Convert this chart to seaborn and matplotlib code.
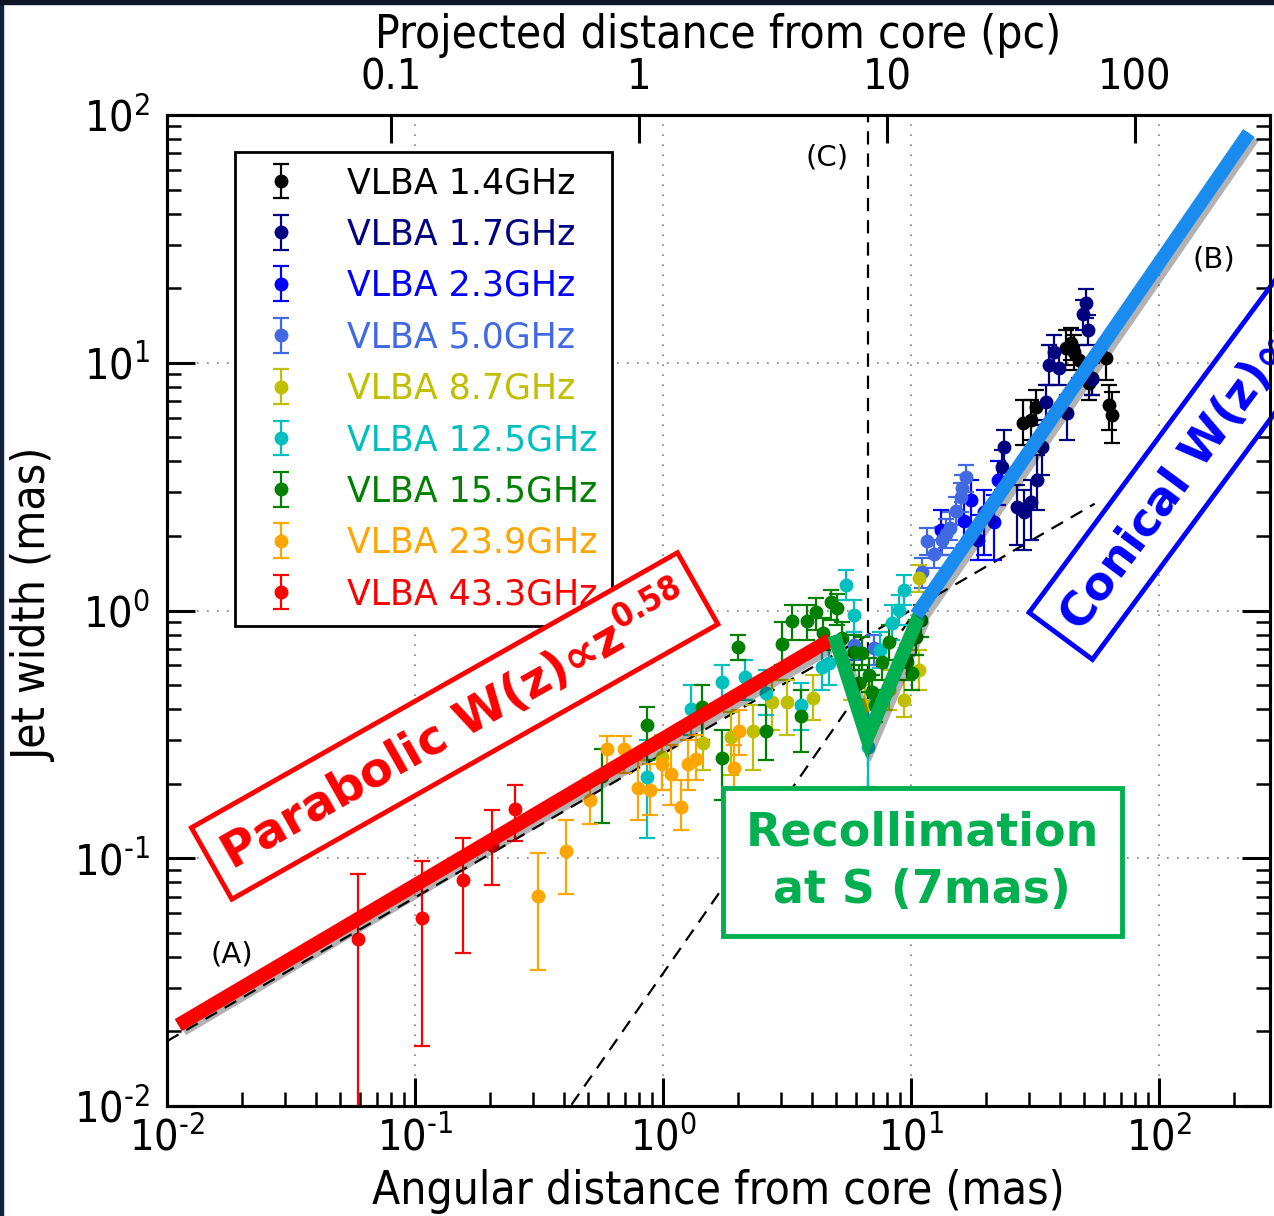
import numpy as np
import matplotlib
matplotlib.use("Agg")
import matplotlib.pyplot as plt
import matplotlib.patheffects as pe
import matplotlib.ticker as mticker
from matplotlib.patches import Rectangle
import seaborn as sns

# ---------------- data ----------------
labels = ["VLBA 1.4GHz", "VLBA 1.7GHz", "VLBA 2.3GHz", "VLBA 5.0GHz", "VLBA 8.7GHz",
          "VLBA 12.5GHz", "VLBA 15.5GHz", "VLBA 23.9GHz", "VLBA 43.3GHz"]
colors = ["black", "#000080", "#0000ff", "#4169e1", "#bfbf00",
          "#00bfbf", "#008000", "#ffa500", "#ff0000"]

x_14 = [28.3, 30.5, 31.9, 42.2, 44.2, 45.4, 53.6, 52.1, 61.1, 62.8, 64.6, 47.5]
y_14 = [5.71, 5.87, 6.63, 11.5, 12.0, 11.05, 8.68, 8.29, 10.45, 6.75, 6.15, 10.26]
lo_14 = [4.66, 4.88, 5.61, 9.79, 10.26, 9.35, 7.41, 7.07, 8.52, 5.35, 4.74, 8.68]
hi_14 = [7.07, 7.07, 7.76, 13.6, 13.8, 12.9, 10.26, 9.79, 12.4, 8.13, 7.62, 11.8]

x_17 = [50.7, 49.3, 51.6, 37.7, 35.9, 39.5, 35.0, 42.6, 33.7, 32.2, 26.7, 28.5, 30.5, 23.7, 23.3, 53.6]
y_17 = [17.4, 15.7, 13.6, 11.05, 9.79, 9.52, 6.94, 6.27, 4.57, 3.36, 2.62, 2.50, 2.74, 4.57, 3.80, 8.6]
lo_17 = [15.2, 13.6, 11.8, 9.35, 8.13, 8.13, 5.87, 4.88, 3.52, 2.55, 1.84, 1.75, 1.93, 3.69, 3.06, 7.41]
hi_17 = [19.85, 17.9, 15.6, 12.9, 11.8, 11.3, 8.13, 7.41, 5.61, 4.24, 3.21, 3.06, 3.36, 5.35, 4.44, 10.0]

x_23 = [13.2, 17.5, 19.7, 21.6, 16.3, 22.5, 18.6]
y_23 = [2.11, 2.79, 2.50, 2.28, 2.30, 3.36, 1.93]
lo_23 = [1.68, 2.21, 1.68, 1.60, 1.84, 2.67, 1.60]
hi_23 = [2.55, 3.36, 3.06, 2.93, 2.79, 4.00, 2.43]

x_50 = [11.1, 11.6, 12.4, 13.3, 13.8, 14.4, 15.2, 15.9, 16.1, 16.7, 5.90, 7.10]
y_50 = [1.43, 1.91, 1.69, 1.93, 2.04, 2.15, 2.51, 2.87, 3.12, 3.46, 0.725, 0.705]
lo_50 = [1.23, 1.68, 1.49, 1.68, 1.79, 1.93, 2.21, 2.50, 2.74, 3.00, 0.631, 0.603]
hi_50 = [1.63, 2.15, 1.93, 2.18, 2.33, 2.50, 2.87, 3.27, 3.52, 3.87, 0.817, 0.796]

x_87 = [0.99, 1.45, 1.884, 2.31, 2.76, 3.17, 4.03, 5.74, 6.53, 8.16, 9.37, 10.8, 10.8]
y_87 = [0.256, 0.293, 0.308, 0.326, 0.427, 0.427, 0.444, 0.509, 0.416, 0.478, 0.435, 0.575, 1.35]
lo_87 = [0.189, 0.227, 0.216, 0.227, 0.329, 0.314, 0.361, 0.435, 0.345, 0.397, 0.370, 0.478, 1.19]
hi_87 = [0.314, 0.379, 0.389, 0.416, 0.524, 0.524, 0.549, 0.603, 0.500, 0.575, 0.524, 0.693, 1.53]

x_125 = [0.865, 1.30, 1.734, 2.15, 2.61, 3.61, 4.39, 4.68, 5.48, 5.90, 6.72, 8.39, 8.95, 9.37, 7.50]
y_125 = [0.212, 0.400, 0.514, 0.539, 0.464, 0.416, 0.591, 0.613, 1.27, 0.959, 0.281, 0.891, 1.005, 1.21, 0.693]
lo_125 = [0.121, 0.314, 0.416, 0.435, 0.379, 0.329, 0.478, 0.500, 1.10, 0.817, 0.194, 0.760, 0.874, 1.05, 0.585]
hi_125 = [0.300, 0.500, 0.603, 0.631, 0.575, 0.509, 0.693, 0.725, 1.46, 1.10, 0.435, 1.05, 1.15, 1.39, 0.817]

x_155 = [0.570, 0.865, 1.442, 1.734, 2.01, 2.61, 3.03, 3.32, 3.61, 3.82, 4.15, 4.77, 5.04, 5.28,
         5.90, 6.35, 6.18, 6.78, 6.97, 7.65, 8.16, 9.64, 10.1, 10.5, 11.0, 4.43, 7.17]
y_155 = [0.214, 0.345, 0.408, 0.253, 0.712, 0.326, 0.732, 0.907, 0.375, 0.907, 0.986, 1.08, 1.02, 0.774,
         0.680, 0.674, 0.509, 0.549, 0.469, 0.619, 0.745, 0.619, 0.561, 0.780, 0.915, 0.81, 0.416]
lo_155 = [0.139, 0.249, 0.300, 0.172, 0.631, 0.249, 0.603, 0.760, 0.269, 0.760, 0.834, 0.915, 0.874, 0.661,
          0.575, 0.575, 0.435, 0.469, 0.397, 0.524, 0.631, 0.524, 0.478, 0.661, 0.780, 0.693, 0.355]
hi_155 = [0.275, 0.408, 0.500, 0.329, 0.796, 0.416, 0.899, 1.05, 0.478, 1.05, 1.12, 1.21, 1.166, 0.899,
          0.796, 0.780, 0.603, 0.645, 0.549, 0.725, 0.874, 0.725, 0.661, 0.915, 1.05, 0.93, 0.478]

x_239 = [0.312, 0.408, 0.506, 0.597, 0.693, 0.796, 0.889, 0.986, 1.08, 1.186, 1.265, 1.364, 1.94, 2.03]
y_239 = [0.0704, 0.107, 0.172, 0.275, 0.275, 0.192, 0.189, 0.240, 0.218, 0.161, 0.240, 0.251, 0.231, 0.326]
lo_239 = [0.0354, 0.0717, 0.138, 0.22, 0.22, 0.143, 0.150, 0.189, 0.164, 0.130, 0.189, 0.207, 0.180, 0.261]
hi_239 = [0.105, 0.143, 0.210, 0.311, 0.311, 0.249, 0.240, 0.300, 0.286, 0.207, 0.300, 0.314, 0.286, 0.397]

x_433 = [0.0587, 0.107, 0.156, 0.204, 0.252]
y_433 = [0.0472, 0.0574, 0.0817, 0.113, 0.158]
lo_433 = [0.002, 0.0175, 0.0415, 0.078, 0.1175]
hi_433 = [0.0864, 0.0975, 0.121, 0.157, 0.198]

series_x = [x_14, x_17, x_23, x_50, x_87, x_125, x_155, x_239, x_433]
series_y = [y_14, y_17, y_23, y_50, y_87, y_125, y_155, y_239, y_433]
series_lo = [lo_14, lo_17, lo_23, lo_50, lo_87, lo_125, lo_155, lo_239, lo_433]
series_hi = [hi_14, hi_17, hi_23, hi_50, hi_87, hi_125, hi_155, hi_239, hi_433]

# fitted power laws W = a * z**p
para_coef, para_index, para_range = 0.264, 0.58, [0.01, 55.0]
coni_coef, coni_index, coni_range = 0.0343, 1.436, [0.3, 230.0]
recoll_z = 6.7

# highlight strokes
red_x, red_y = [0.0111, 4.70], [0.0212, 0.76]
v_x, v_y = [4.90, 6.65, 10.8], [0.796, 0.305, 0.959]
blue_x, blue_y = [10.5, 230.0], [0.96, 84.6]

pc_per_mas = 1.25
pc_ticks = [0.1, 1, 10, 100]
pc_labels = ["0.1", "1", "10", "100"]

# ---------------- figure ----------------
sns.set_style("white")
plt.rcParams["font.family"] = ["DejaVu Sans"]
plt.rcParams["font.stretch"] = "condensed"
plt.rcParams["mathtext.fontset"] = "dejavusans"
plt.rcParams["axes.unicode_minus"] = False
plt.rcParams["text.color"] = "black"

W, H = 1274, 1216
fig = plt.figure(figsize=(W / 100, H / 100), dpi=100)
fig.patch.set_facecolor("white")
ax = fig.add_axes([167 / W, 110 / H, 1103 / W, 991 / H])
ax.set_xscale("log")
ax.set_yscale("log")
ax.set_xlim(0.01, 280)
ax.set_ylim(0.01, 100)

ax.grid(True, which="major", color="gray", ls=(0, (1, 5)), lw=1.2, zorder=0)

# fit lines
zp = np.array(para_range)
sns.lineplot(x=zp, y=para_coef * zp ** para_index, ax=ax, color="black", lw=1.6,
             linestyle=(0, (6, 4)), sort=False, estimator=None, zorder=2)
zc = np.array(coni_range)
sns.lineplot(x=zc, y=coni_coef * zc ** coni_index, ax=ax, color="black", lw=1.6,
             linestyle=(0, (6, 4)), sort=False, estimator=None, zorder=2)
ax.axvline(recoll_z, ymin=0.32, ymax=1, color="black", lw=1.6, ls=(0, (6, 4)), zorder=2)

# data
for lab, col, xs, ys, lo, hi in zip(labels, colors, series_x, series_y, series_lo, series_hi):
    xs, ys, lo, hi = map(np.asarray, (xs, ys, lo, hi))
    ax.errorbar(xs, ys, yerr=np.vstack([ys - lo, hi - ys]), fmt="o", color=col, ecolor=col,
                mec=col, ms=9, elinewidth=1.6, capsize=6, capthick=1.6, label=lab, zorder=3)

# highlight strokes with shadows
shadow = [pe.SimpleLineShadow(offset=(3, -3), shadow_color="black", alpha=0.3), pe.Normal()]
for xs, ys, col in [(red_x, red_y, "#ff0000"), (v_x, v_y, "#00b050"), (blue_x, blue_y, "#1a8cf0")]:
    sns.lineplot(x=xs, y=ys, ax=ax, color=col, lw=10, sort=False, estimator=None,
                 solid_capstyle="butt", solid_joinstyle="miter", zorder=5)
    ax.lines[-1].set_path_effects(shadow)

# annotations
ann_kw = dict(fontweight="bold", fontstretch="normal", zorder=7)
ax.text(0.1445, 0.342, "Parabolic W(z)\u221dz$^{\\mathbf{0.58}}$", color="#ff0000",
        fontsize=34.5, rotation=29.5, rotation_mode="anchor", ha="center", va="center",
        bbox=dict(boxstyle="square,pad=0.3", fc="white", ec="#ff0000", lw=3.5), **ann_kw)
ax.text(43.3, 0.874, "Conical W(z)\u221dz$^{\\mathbf{1.4}}$", color="#0000ff",
        fontsize=33, rotation=53.5, rotation_mode="anchor", ha="left", va="center",
        bbox=dict(boxstyle="square,pad=0.3", fc="white", ec="#0000ff", lw=3.5), **ann_kw)
ax.text(11.08, 0.0966, "Recollimation\nat S (7mas)", color="#00b050", fontsize=33,
        ha="center", va="center", multialignment="center", linespacing=1.35,
        bbox=dict(boxstyle="square,pad=0.5", fc="white", ec="#00b050", lw=3.5), **ann_kw)
for tx, ty, s in [(0.0183, 0.0407, "(A)"), (166, 26.0, "(B)"), (4.59, 67.1, "(C)")]:
    ax.text(tx, ty, s, fontsize=21, fontstretch="normal", color="black",
            ha="center", va="center", zorder=4)

# legend
leg = ax.legend(loc="upper left", bbox_to_anchor=(0.0617, 0.963), borderaxespad=0,
                prop=dict(size=25, stretch="normal"), numpoints=1, handlelength=1.8,
                handletextpad=1.0, borderpad=0.42, labelspacing=0.5, fancybox=False,
                framealpha=1, edgecolor="black")
leg.get_frame().set_linewidth(2)
for t, c in zip(leg.get_texts(), colors):
    t.set_color(c)


def pow10_label(v, pos):
    e = int(round(np.log10(v)))
    s = str(e) if e >= 0 else "\u2010" + str(-e)
    return "$\\mathdefault{10^{" + s + "}}$"


# ticks / spines
ax.xaxis.set_major_formatter(mticker.FuncFormatter(pow10_label))
ax.yaxis.set_major_formatter(mticker.FuncFormatter(pow10_label))
ax.tick_params(which="both", direction="in", top=False, right=True, left=True, bottom=True,
               colors="black")
ax.tick_params(which="major", length=20, width=2.2, labelsize=31)
ax.tick_params(which="minor", length=10, width=1.8)
ax.tick_params(axis="x", which="major", pad=8)
ax.tick_params(axis="y", which="major", pad=12)
ax.xaxis.set_minor_locator(mticker.LogLocator(base=10, subs=np.arange(2, 10), numticks=20))
ax.yaxis.set_minor_locator(mticker.LogLocator(base=10, subs=np.arange(2, 10), numticks=20))
ax.xaxis.set_minor_formatter(mticker.NullFormatter())
ax.yaxis.set_minor_formatter(mticker.NullFormatter())
for s in ax.spines.values():
    s.set_linewidth(2.2)
    s.set_color("black")

ax2 = ax.twiny()
ax2.set_xscale("log")
ax2.set_xlim(0.01 * pc_per_mas, 280 * pc_per_mas)
ax2.set_xticks(pc_ticks)
ax2.set_xticklabels(pc_labels)
ax2.xaxis.set_minor_locator(mticker.NullLocator())
ax2.tick_params(axis="x", direction="in", length=20, width=2.2, labelsize=31, pad=12, colors="black")
for s in ax2.spines.values():
    s.set_linewidth(2.2)
    s.set_color("black")

# axis titles
lab_kw = dict(fontsize=33, fontstretch="condensed", color="black")
fig.text(718 / W, 1 - 1192 / H, "Angular distance from core (mas)", ha="center", va="center", **lab_kw)
fig.text(718 / W, 1 - 36 / H, "Projected distance from core (pc)", ha="center", va="center", **lab_kw)
fig.text(35 / W, 1 - 605 / H, "Jet width (mas)", ha="center", va="center", rotation=90, **lab_kw)

# slide border
fig.patches.append(Rectangle((0, 0), 3 / W, 1, transform=fig.transFigure, color="#13223a", zorder=10))
fig.patches.append(Rectangle((0, 1 - 4 / H), 1, 4 / H, transform=fig.transFigure, color="#0c1626", zorder=10))

fig.savefig("out.png", dpi=100)
